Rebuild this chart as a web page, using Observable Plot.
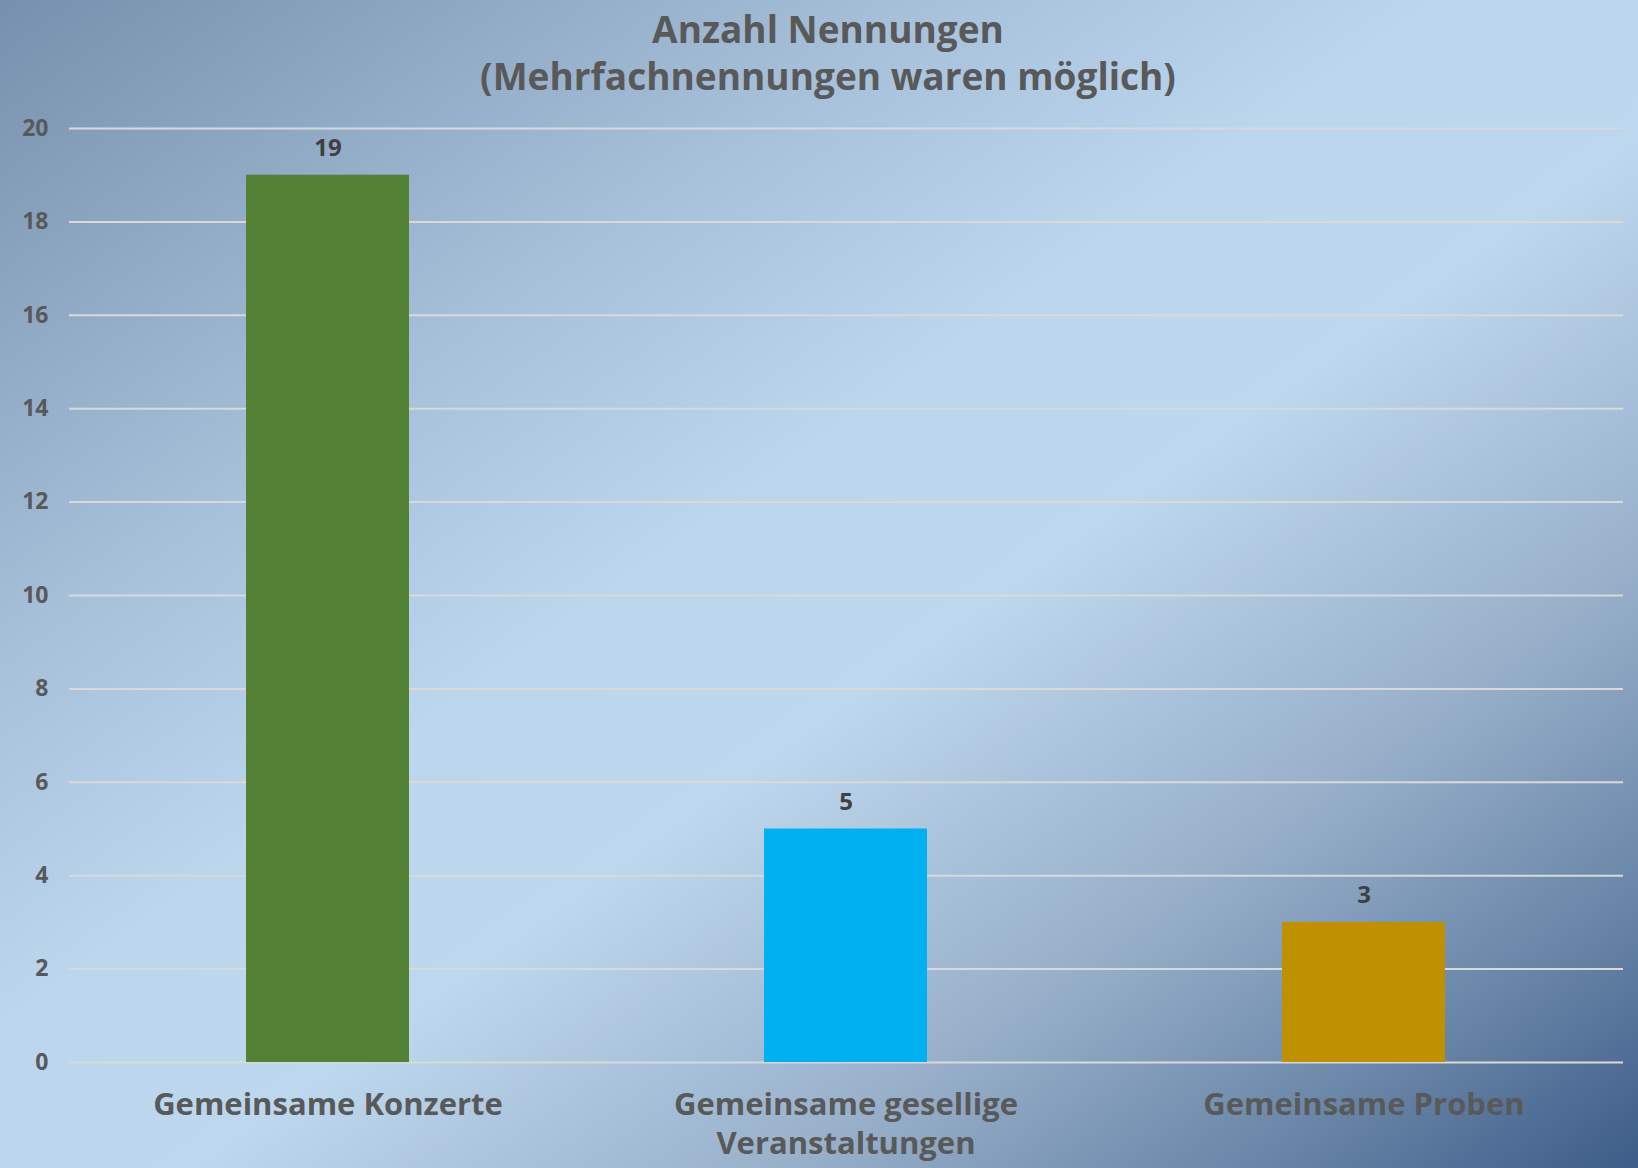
<!DOCTYPE html>
<html>
<head>
<meta charset="utf-8">
<script src="https://cdn.jsdelivr.net/npm/d3@7"></script>
<script src="https://cdn.jsdelivr.net/npm/@observablehq/plot@0.6"></script>
<style>
  html, body { margin: 0; padding: 0; }
  #chart {
    width: 1638px; height: 1168px; overflow: hidden;
    background: linear-gradient(to bottom right,
      #7690ad 0%, #a6c0da 28%, #bcd6ee 44%, #bdd7ee 56%,
      #98b0ca 74%, #6683a6 89%, #3d5c87 100%);
    font-family: "Open Sans", Lato, sans-serif;
  }
  #title {
    height: 95px; padding-top: 5px; box-sizing: content-box;
    text-align: center; color: #595959; font-weight: bold;
    font-size: 37px; line-height: 47px;
    padding-left: 18px;
  }
  #chart svg { display: block; background: transparent; }
</style>
</head>
<body>
<div id="chart">
  <div id="title">Anzahl Nennungen<br>(Mehrfachnennungen waren möglich)</div>
</div>
<script>
const categories = ["Gemeinsame Konzerte", "Gemeinsame gesellige Veranstaltungen", "Gemeinsame Proben"];
const tickLabels = ["Gemeinsame Konzerte", "Gemeinsame gesellige\nVeranstaltungen", "Gemeinsame Proben"];
const values = [19, 5, 3];
const colors = ["#538135", "#00b0f0", "#bf9000"];
const yTicks = [0, 2, 4, 6, 8, 10, 12, 14, 16, 18, 20];

const data = categories.map((c, i) => ({category: c, value: values[i], color: colors[i]}));

const chart = Plot.plot({
  width: 1638,
  height: 1068,
  marginTop: 28,
  marginBottom: 106,
  marginLeft: 69,
  marginRight: 15,
  style: {background: "transparent", fontFamily: "'Open Sans', Lato, sans-serif", color: "#595959"},
  x: {domain: categories, paddingInner: 0.685, paddingOuter: 0.3425, label: null},
  y: {domain: [0, 20], label: null},
  marks: [
    Plot.gridY(yTicks, {stroke: "#d9d9d9", strokeOpacity: 1, strokeWidth: 2}),
    Plot.barY(data, {x: "category", y: "value", fill: "color"}),
    Plot.text(data, {x: "category", y: "value", text: d => String(d.value), dy: -27,
      fontSize: 24, fontWeight: "bold", fill: "#404040"}),
    Plot.axisY({ticks: yTicks, tickSize: 0, tickPadding: 21, fontSize: 23, fontWeight: "bold",
      fill: "#595959", label: null}),
    Plot.axisX({tickSize: 0, tickPadding: 25, fontSize: 31, fontWeight: "bold", fill: "#595959",
      lineHeight: 1.25, label: null,
      tickFormat: c => tickLabels[categories.indexOf(c)]})
  ]
});
document.getElementById("chart").appendChild(chart);
</script>
</body>
</html>
